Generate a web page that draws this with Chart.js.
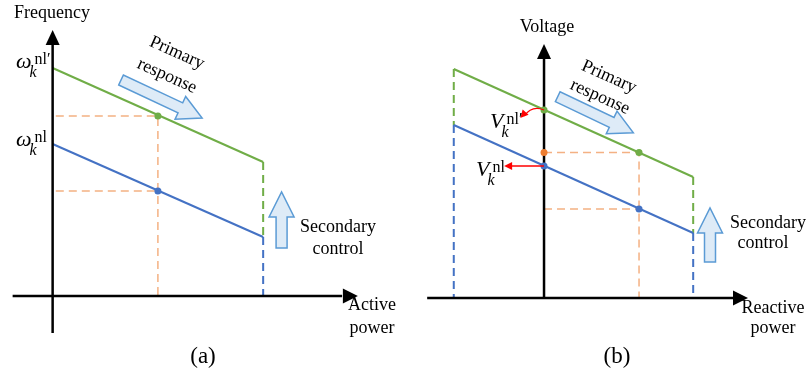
<!DOCTYPE html>
<html>
<head>
<meta charset="utf-8">
<script src="https://cdn.jsdelivr.net/npm/chart.js@4"></script>
<style>
  body { margin: 0; background: #fff; }
  #wrapA { position: absolute; left: 0; top: 0; }
  #wrapB { position: absolute; left: 400px; top: 0; }
</style>
</head>
<body>
<div id="wrapA"><canvas id="chartA" width="400" height="383"></canvas></div>
<div id="wrapB"><canvas id="chartB" width="407" height="383"></canvas></div>
<script>
// panel (a): frequency vs active power
const powerA = [0, 1, 2];            // no-load, operating point, max
const freqBefore = [1.52, 1.05, 0.59]; // blue droop, omega_k^nl
const freqAfter = [2.28, 1.80, 1.34];  // green droop, omega_k^nl'

// panel (b): voltage vs reactive power
const reactiveB = [-0.95, 0, 1, 1.57]; // min, no-load, operating point, max
const voltBefore = [1.73, 1.32, 0.89, 0.65];
const voltAfter = [2.29, 1.88, 1.455, 1.21];

const GREEN = '#70AD47', BLUE = '#4472C4', ORANGE = '#F4B183', DOT_ORANGE = '#ED7D31';
const SERIF = '"Liberation Serif", serif';

function seg(pts, color, dash, width, order) {
  return {
    data: pts, showLine: true, borderColor: color, borderWidth: width || 2,
    borderDash: dash || [], pointRadius: 0, order: order || 5, fill: false
  };
}
function dots(pts, colors) {
  return {
    data: pts, showLine: false, pointRadius: 3.5, pointBackgroundColor: colors,
    pointBorderWidth: 0, order: 0
  };
}

function blockArrow(ctx, t, h, sw, hw, hl) {
  const dx = h.x - t.x, dy = h.y - t.y, L = Math.hypot(dx, dy);
  const ux = dx / L, uy = dy / L, nx = -uy, ny = ux;
  const bx = h.x - ux * hl, by = h.y - uy * hl;
  ctx.beginPath();
  ctx.moveTo(t.x + nx * sw / 2, t.y + ny * sw / 2);
  ctx.lineTo(bx + nx * sw / 2, by + ny * sw / 2);
  ctx.lineTo(bx + nx * hw / 2, by + ny * hw / 2);
  ctx.lineTo(h.x, h.y);
  ctx.lineTo(bx - nx * hw / 2, by - ny * hw / 2);
  ctx.lineTo(bx - nx * sw / 2, by - ny * sw / 2);
  ctx.lineTo(t.x - nx * sw / 2, t.y - ny * sw / 2);
  ctx.closePath();
  ctx.fillStyle = '#DEEBF7';
  ctx.fill();
  ctx.strokeStyle = '#5B9BD5';
  ctx.lineWidth = 1.5;
  ctx.stroke();
}

function headAt(ctx, tip, ux, uy, len, half, color) {
  const nx = -uy, ny = ux;
  ctx.beginPath();
  ctx.moveTo(tip.x, tip.y);
  ctx.lineTo(tip.x - ux * len + nx * half, tip.y - uy * len + ny * half);
  ctx.lineTo(tip.x - ux * len - nx * half, tip.y - uy * len - ny * half);
  ctx.closePath();
  ctx.fillStyle = color;
  ctx.fill();
}

function symbol(ctx, x, y, base, sub, sup) {
  ctx.textAlign = 'left';
  ctx.textBaseline = 'alphabetic';
  ctx.fillStyle = '#000';
  ctx.font = 'italic 22px ' + SERIF;
  ctx.fillText(base, x, y);
  const w = ctx.measureText(base).width;
  ctx.font = 'italic 16px ' + SERIF;
  ctx.fillText(sub, x + w - 2, y + 9);
  ctx.font = '16px ' + SERIF;
  ctx.fillText(sup, x + w + 3, y - 4);
}

function text(ctx, s, x, y, size, rot) {
  ctx.save();
  ctx.translate(x, y);
  if (rot) ctx.rotate(rot);
  ctx.font = size + 'px ' + SERIF;
  ctx.fillStyle = '#000';
  ctx.textAlign = 'center';
  ctx.textBaseline = 'middle';
  ctx.fillText(s, 0, 0);
  ctx.restore();
}

const decor = {
  id: 'decor',
  afterDatasetsDraw(chart, args, opts) {
    const ctx = chart.ctx, xs = chart.scales.x, ys = chart.scales.y;
    const P = (p) => ({ x: xs.getPixelForValue(p[0]), y: ys.getPixelForValue(p[1]) });
    ctx.save();
    // axis arrow heads
    headAt(ctx, P(opts.xTip), 1, 0, 15, 7.5, '#000');
    headAt(ctx, P(opts.yTip), 0, -1, 15, 7, '#000');
    // block arrows
    blockArrow(ctx, P(opts.primary[0]), P(opts.primary[1]), 11, 25, 24);
    blockArrow(ctx, P(opts.secondary[0]), P(opts.secondary[1]), 11, 25, 25);
    // red pointers
    (opts.pointers || []).forEach(r => {
      const a = P(r.from), b = P(r.to);
      ctx.strokeStyle = '#FF0000';
      ctx.lineWidth = 1.3;
      ctx.beginPath();
      ctx.moveTo(a.x, a.y);
      let ux, uy;
      if (r.curve) {
        const cx = a.x - 12, cy = a.y - 5;
        ctx.quadraticCurveTo(cx, cy, b.x + 4, b.y - 2);
        ux = (b.x - cx); uy = (b.y - cy);
      } else {
        ctx.lineTo(b.x + 6, b.y);
        ux = b.x - a.x; uy = b.y - a.y;
      }
      ctx.stroke();
      const L = Math.hypot(ux, uy);
      headAt(ctx, b, ux / L, uy / L, 8, 4, '#FF0000');
    });
    opts.draw(ctx);
    ctx.restore();
  }
};

function makeChart(id, datasets, sx, sy, decorOpts) {
  return new Chart(document.getElementById(id), {
    type: 'scatter',
    data: { datasets: datasets },
    options: {
      responsive: false,
      animation: false,
      layout: { padding: 0, autoPadding: false },
      plugins: { legend: { display: false }, tooltip: { enabled: false }, decor: decorOpts },
      scales: {
        x: { type: 'linear', display: false, min: sx[0], max: sx[1] },
        y: { type: 'linear', display: false, min: sy[0], max: sy[1] }
      }
    },
    plugins: [decor]
  });
}

// ---------- panel (a)
const pa = powerA, fb = freqBefore, fa = freqAfter;
makeChart('chartA', [
  dots([{ x: pa[1], y: fa[1] }, { x: pa[1], y: fb[1] }], [GREEN, BLUE]),
  seg([{ x: -0.38, y: 0 }, { x: 2.75, y: 0 }], '#000', null, 2.5, 1),
  seg([{ x: 0, y: -0.37 }, { x: 0, y: 2.6 }], '#000', null, 2.5, 1),
  seg([{ x: pa[0], y: fa[0] }, { x: pa[2], y: fa[2] }], GREEN, null, 2, 3),
  seg([{ x: pa[0], y: fb[0] }, { x: pa[2], y: fb[2] }], BLUE, null, 2, 3),
  seg([{ x: pa[2], y: fa[2] }, { x: pa[2], y: fb[2] }], GREEN, [8, 5], 2, 4),
  seg([{ x: pa[2], y: fb[2] }, { x: pa[2], y: 0 }], BLUE, [8, 5], 2, 4),
  seg([{ x: 0.03, y: fa[1] }, { x: pa[1], y: fa[1] }, { x: pa[1], y: 0 }], ORANGE, [8, 5], 1.5, 6),
  seg([{ x: 0.03, y: fb[1] }, { x: pa[1], y: fb[1] }], ORANGE, [8, 5], 1.5, 6)
], [-0.5, 3.3], [-0.87, 2.96], {
  xTip: [2.9, 0], yTip: [0, 2.66],
  primary: [[0.65, 2.16], [1.42, 1.78]],
  secondary: [[2.175, 0.48], [2.175, 1.04]],
  draw(ctx) {
    text(ctx, 'Frequency', 52, 13, 18);
    symbol(ctx, 16, 68, 'ω', 'k', 'nl′');
    symbol(ctx, 16, 146, 'ω', 'k', 'nl');
    text(ctx, 'Primary', 177, 53, 18, 0.42);
    text(ctx, 'response', 167, 76, 18, 0.42);
    text(ctx, 'Secondary', 338, 227, 18);
    text(ctx, 'control', 338, 249, 18);
    text(ctx, 'Active', 372, 305, 18);
    text(ctx, 'power', 372, 328, 18);
    text(ctx, '(a)', 203, 357, 23);
  }
});

// ---------- panel (b)
const q = reactiveB, vb = voltBefore, va = voltAfter;
makeChart('chartB', [
  dots([{ x: q[1], y: va[1] }, { x: q[1], y: va[2] }, { x: q[1], y: vb[1] },
        { x: q[2], y: va[2] }, { x: q[2], y: vb[2] }], [GREEN, DOT_ORANGE, BLUE, GREEN, BLUE]),
  seg([{ x: -1.23, y: 0 }, { x: 2.05, y: 0 }], '#000', null, 2.5, 1),
  seg([{ x: 0, y: 0 }, { x: 0, y: 2.48 }], '#000', null, 2.5, 1),
  seg([{ x: q[0], y: va[0] }, { x: q[3], y: va[3] }], GREEN, null, 2, 3),
  seg([{ x: q[0], y: vb[0] }, { x: q[3], y: vb[3] }], BLUE, null, 2, 3),
  seg([{ x: q[0], y: va[0] }, { x: q[0], y: vb[0] }], GREEN, [8, 5], 2, 4),
  seg([{ x: q[0], y: vb[0] }, { x: q[0], y: 0 }], BLUE, [8, 5], 2, 4),
  seg([{ x: q[3], y: va[3] }, { x: q[3], y: vb[3] }], GREEN, [8, 5], 2, 4),
  seg([{ x: q[3], y: vb[3] }, { x: q[3], y: 0 }], BLUE, [8, 5], 2, 4),
  seg([{ x: q[1], y: va[2] }, { x: q[2], y: va[2] }, { x: q[2], y: 0 }], ORANGE, [8, 5], 1.5, 6),
  seg([{ x: q[1], y: vb[2] }, { x: q[2], y: vb[2] }], ORANGE, [8, 5], 1.5, 6)
], [-1.516, 2.768], [-0.85, 2.98], {
  xTip: [2.147, 0], yTip: [0, 2.54],
  primary: [[0.144, 2.013], [0.94, 1.653]],
  secondary: [[1.747, 0.36], [1.747, 0.90]],
  pointers: [
    { from: [0, va[1]], to: [-0.25, 1.80], curve: true },
    { from: [0, vb[1]], to: [-0.42, 1.32] }
  ],
  draw(ctx) {
    text(ctx, 'Voltage', 147, 27, 18);
    symbol(ctx, 90, 128, 'V', 'k', 'nl′');
    symbol(ctx, 76, 176, 'V', 'k', 'nl');
    text(ctx, 'Primary', 209, 77, 18, 0.42);
    text(ctx, 'response', 200, 97, 18, 0.42);
    text(ctx, 'Secondary', 368, 223, 18);
    text(ctx, 'control', 363, 243, 18);
    text(ctx, 'Reactive', 373, 308, 18);
    text(ctx, 'power', 373, 328, 18);
    text(ctx, '(b)', 217, 357, 23);
  }
});
</script>
</body>
</html>
